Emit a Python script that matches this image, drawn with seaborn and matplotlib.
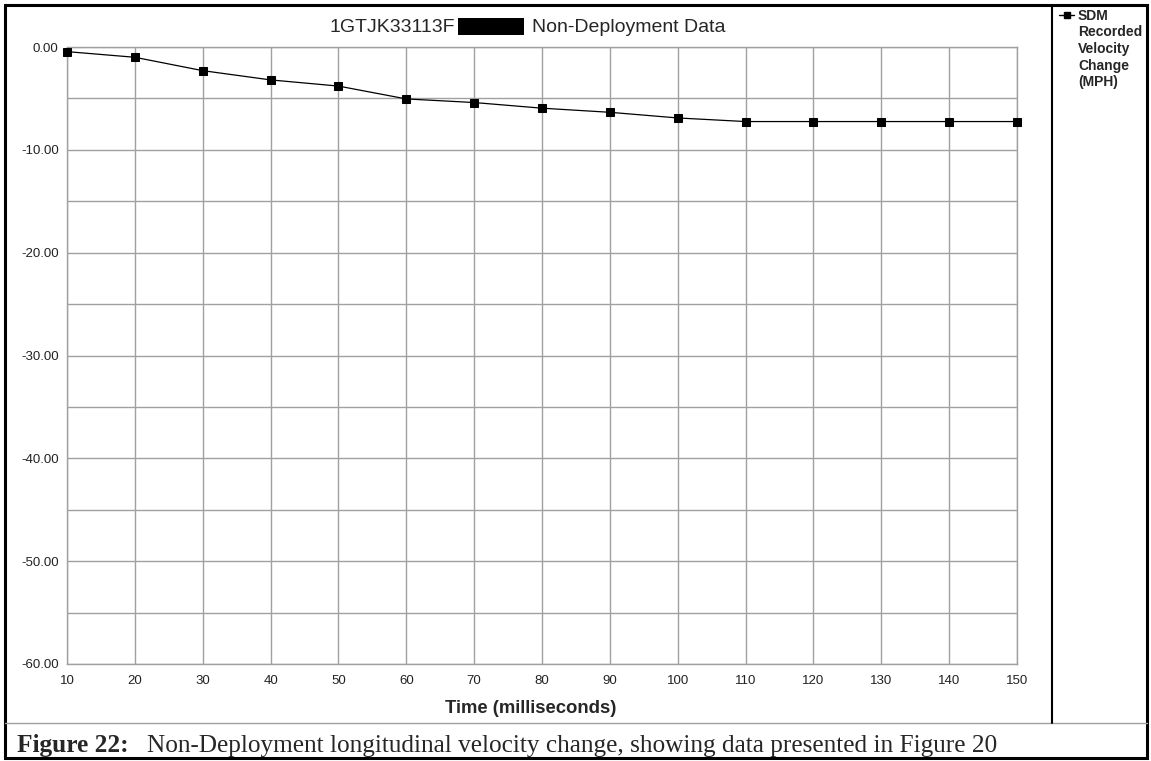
import matplotlib
matplotlib.use("Agg")
import matplotlib.pyplot as plt
import seaborn as sns
import pandas as pd
from matplotlib.patches import Rectangle
from matplotlib.lines import Line2D

# -----------------------------
# Data
# -----------------------------
time_ms = [10, 20, 30, 40, 50, 60, 70, 80, 90, 100, 110, 120, 130, 140, 150]
delta_v = [-0.45, -1.0, -2.3, -3.2, -3.8, -5.05, -5.4, -5.95, -6.35, -6.9, -7.25, -7.25, -7.25, -7.25, -7.25]
x_ticks = list(range(10, 151, 10))
y_ticks = [0, -10, -20, -30, -40, -50, -60]
y_grid = [0, -5, -10, -15, -20, -25, -30, -35, -40, -45, -50, -55, -60]
title_left = "1GTJK33113F"
title_right = "Non-Deployment Data"
legend_label = ["SDM", "Recorded", "Velocity", "Change", "(MPH)"]
caption_bold = "Figure 22:"
caption_rest = "Non-Deployment longitudinal velocity change, showing data presented in Figure 20"

df = pd.DataFrame({"Time": time_ms, "Velocity": delta_v})

sns.set_style("white")
plt.rcParams["font.family"] = ["Liberation Sans", "DejaVu Sans"]

W, H = 1151, 761
fig = plt.figure(figsize=(W / 100, H / 100), dpi=100)
ax = fig.add_axes([67 / W, 1 - 664 / H, (1017 - 67) / W, (664 - 47) / H])

sns.lineplot(data=df, x="Time", y="Velocity", ax=ax, color="black", lw=0.9,
             marker="s", markersize=6, markeredgecolor="black", legend=False,
             clip_on=False, zorder=5)

ax.set_xlim(10, 150)
ax.set_ylim(-60, 0)
ax.set_xticks(x_ticks)
ax.set_yticks(y_ticks)
ax.set_yticks(y_grid, minor=True)
ax.set_yticklabels([f"{v:.2f}" for v in y_ticks])
ax.grid(True, which="both", color="#a0a0a0", lw=1.0)
ax.set_axisbelow(True)
for s in ax.spines.values():
    s.set_color("#a0a0a0")
    s.set_linewidth(1.0)
ax.tick_params(axis="x", length=4, color="#a0a0a0", labelsize=9.5, labelcolor="#222222", pad=4)
ax.tick_params(axis="y", which="both", length=0, labelsize=9.5, labelcolor="#222222", pad=6)
ax.set_xlabel("")
ax.set_ylabel("")
fig.text(531 / W, 1 - 713 / H, "Time (milliseconds)", ha="center", va="baseline",
         fontsize=13.3, fontweight="bold")

# title with redaction block
fig.text(455 / W, 1 - 32 / H, title_left, ha="right", va="baseline", fontsize=14)
fig.add_artist(Rectangle((458 / W, 1 - 35 / H), 66 / W, 17 / H, transform=fig.transFigure,
                         facecolor="black", edgecolor="none"))
fig.text(532 / W, 1 - 32 / H, title_right, ha="left", va="baseline", fontsize=14)

# legend in the right panel
fig.add_artist(Line2D([1059 / W, 1074 / W], [1 - 15 / H, 1 - 15 / H], transform=fig.transFigure,
                      color="black", lw=1.0))
fig.add_artist(Line2D([1067 / W], [1 - 15 / H], transform=fig.transFigure,
                      color="black", marker="s", markersize=5, lw=0))
for i, t in enumerate(legend_label):
    fig.text(1078 / W, 1 - (15.5 + i * 16.7) / H, t, ha="left", va="center",
             fontsize=10, fontweight="bold")

# frame lines
fig.add_artist(Rectangle((5 / W, 3 / H), (W - 9) / W, (H - 8) / H, transform=fig.transFigure,
                         facecolor="none", edgecolor="black", lw=2.2))
fig.add_artist(Line2D([5 / W, (W - 4) / W], [1 - 723 / H, 1 - 723 / H], transform=fig.transFigure,
                      color="#a0a0a0", lw=1.0))
fig.add_artist(Line2D([1052 / W, 1052 / W], [1 - 5 / H, 1 - 723 / H], transform=fig.transFigure,
                      color="black", lw=1.5))

# caption
fig.text(17 / W, 1 - 752 / H, caption_bold, ha="left", va="baseline", fontsize=18.3,
         fontweight="bold", family=["Liberation Serif", "DejaVu Serif"])
fig.text(147 / W, 1 - 752 / H, caption_rest, ha="left", va="baseline", fontsize=18.2,
         family=["Liberation Serif", "DejaVu Serif"])

fig.savefig("out.png", dpi=100)
